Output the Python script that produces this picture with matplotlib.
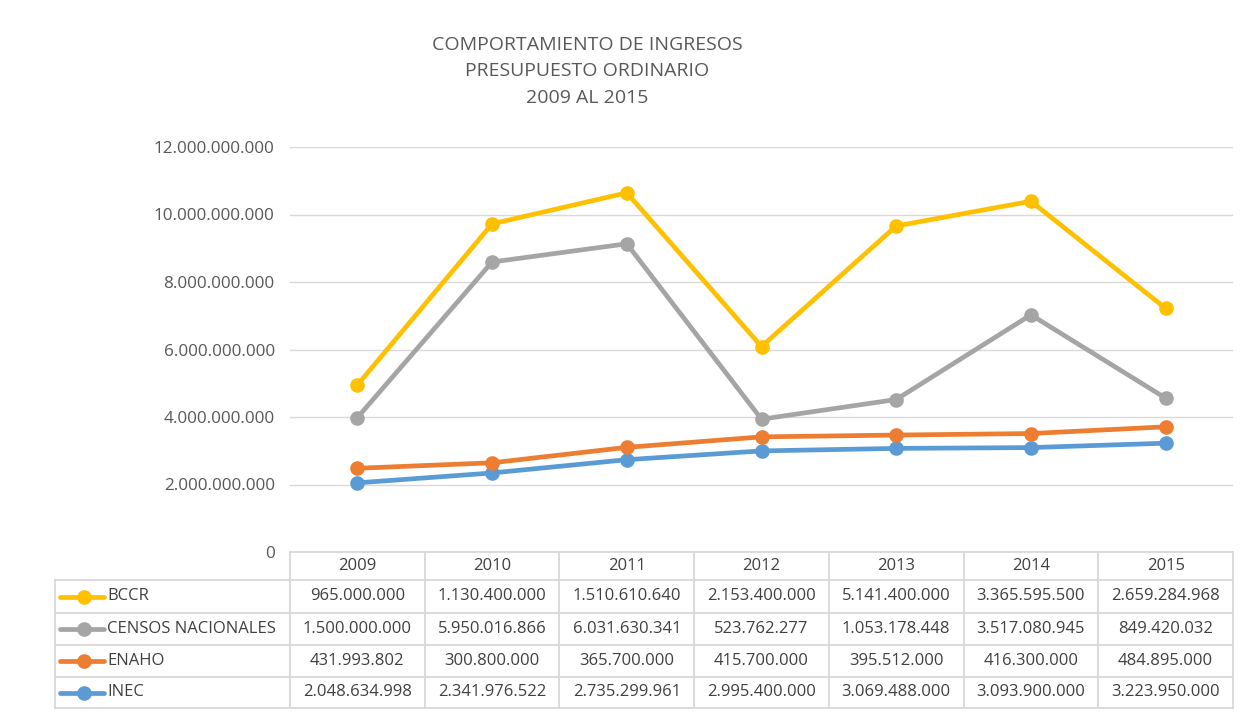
import matplotlib
matplotlib.use("Agg")
import matplotlib.pyplot as plt
from matplotlib.lines import Line2D
import numpy as np

years = ["2009", "2010", "2011", "2012", "2013", "2014", "2015"]
series_names = ["BCCR", "CENSOS NACIONALES", "ENAHO", "INEC"]
bccr = [965000000, 1130400000, 1510610640, 2153400000, 5141400000, 3365595500, 2659284968]
censos = [1500000000, 5950016866, 6031630341, 523762277, 1053178448, 3517080945, 849420032]
enaho = [431993802, 300800000, 365700000, 415700000, 395512000, 416300000, 484895000]
inec = [2048634998, 2341976522, 2735299961, 2995400000, 3069488000, 3093900000, 3223950000]
colors = ["#FFC000", "#A5A5A5", "#ED7D31", "#5B9BD5"]

FONT = "Open Sans"
plt.rcParams['font.family'] = [FONT, 'DejaVu Sans']

W, H = 1249, 713
fig = plt.figure(figsize=(W / 100, H / 100), dpi=100)

def fx(px):
    return px / W

def fy(py):
    return 1 - py / H

x0, x1 = 290, 1233
ytop, ybot = 147, 552
ax = fig.add_axes([fx(x0), fy(ybot), fx(x1) - fx(x0), fy(ytop) - fy(ybot)])

def fmt(v):
    return f"{int(round(v)):,}".replace(",", ".")

vals = {"BCCR": bccr, "CENSOS NACIONALES": censos, "ENAHO": enaho, "INEC": inec}
x = np.arange(len(years))
stack = np.zeros(len(years))
cum = {}
for name in ["INEC", "ENAHO", "CENSOS NACIONALES", "BCCR"]:
    stack = stack + np.array(vals[name], dtype=float)
    cum[name] = stack.copy()
for name, c in zip(series_names[::-1], colors[::-1]):
    ax.plot(x, cum[name], color=c, lw=3.4, marker="o", ms=9.5, zorder=3,
            solid_capstyle="round")

ax.set_xlim(-0.5, len(years) - 0.5)
ax.set_ylim(0, 12e9)
ticks = np.arange(0, 12e9 + 1, 2e9)
ax.set_yticks(ticks)
ax.set_yticklabels([fmt(t) for t in ticks], color="#595959", fontsize=12.3)
ax.tick_params(axis="y", length=0, pad=11)
ax.set_xticks([])
for s in ax.spines.values():
    s.set_visible(False)
ax.grid(axis="y", color="#D9D9D9", lw=1.0)
ax.set_axisbelow(True)

# title
title_lines = ["COMPORTAMIENTO DE INGRESOS", "PRESUPUESTO ORDINARIO", "2009 AL 2015"]
for i, (t, py) in enumerate(zip(title_lines, [45, 71, 98])):
    fig.text(fx(587), fy(py), t, ha="center", va="center", color="#595959", fontsize=14)

# data table overlay (pixel coordinates)
ov = fig.add_axes([0, 0, 1, 1])
ov.set_xlim(0, W)
ov.set_ylim(H, 0)
ov.axis("off")
ov.patch.set_alpha(0)

gc = "#D9D9D9"
col_edges = [x0 + (x1 - x0) * i / len(years) for i in range(len(years) + 1)]
row_edges = [552, 580, 613, 645, 677, 708]
left = 55
ov.plot([x0, x1], [row_edges[0]] * 2, color=gc, lw=1.3)
for ry in row_edges[1:]:
    ov.plot([left, x1], [ry] * 2, color=gc, lw=1.3)
ov.plot([left, left], [row_edges[1], row_edges[-1]], color=gc, lw=1.3)
for cx in col_edges:
    ov.plot([cx, cx], [row_edges[0], row_edges[-1]], color=gc, lw=1.3)

tc = "#404040"
fs = 12
for j, yr in enumerate(years):
    cx = (col_edges[j] + col_edges[j + 1]) / 2
    ov.text(cx, (row_edges[0] + row_edges[1]) / 2, yr, ha="center", va="center",
            color=tc, fontsize=fs)
for i, name in enumerate(series_names):
    cy = (row_edges[i + 1] + row_edges[i + 2]) / 2
    ov.add_line(Line2D([60, 104], [cy, cy], color=colors[i], lw=3.4, solid_capstyle="round"))
    ov.add_line(Line2D([84], [cy], color=colors[i], marker="o", ms=9.5, lw=0))
    ov.text(107, cy, name, ha="left", va="center", color=tc, fontsize=fs)
    for j in range(len(years)):
        cx = (col_edges[j] + col_edges[j + 1]) / 2
        ov.text(cx, cy, fmt(vals[name][j]), ha="center", va="center", color=tc, fontsize=fs)

fig.savefig("out.png", dpi=100)
